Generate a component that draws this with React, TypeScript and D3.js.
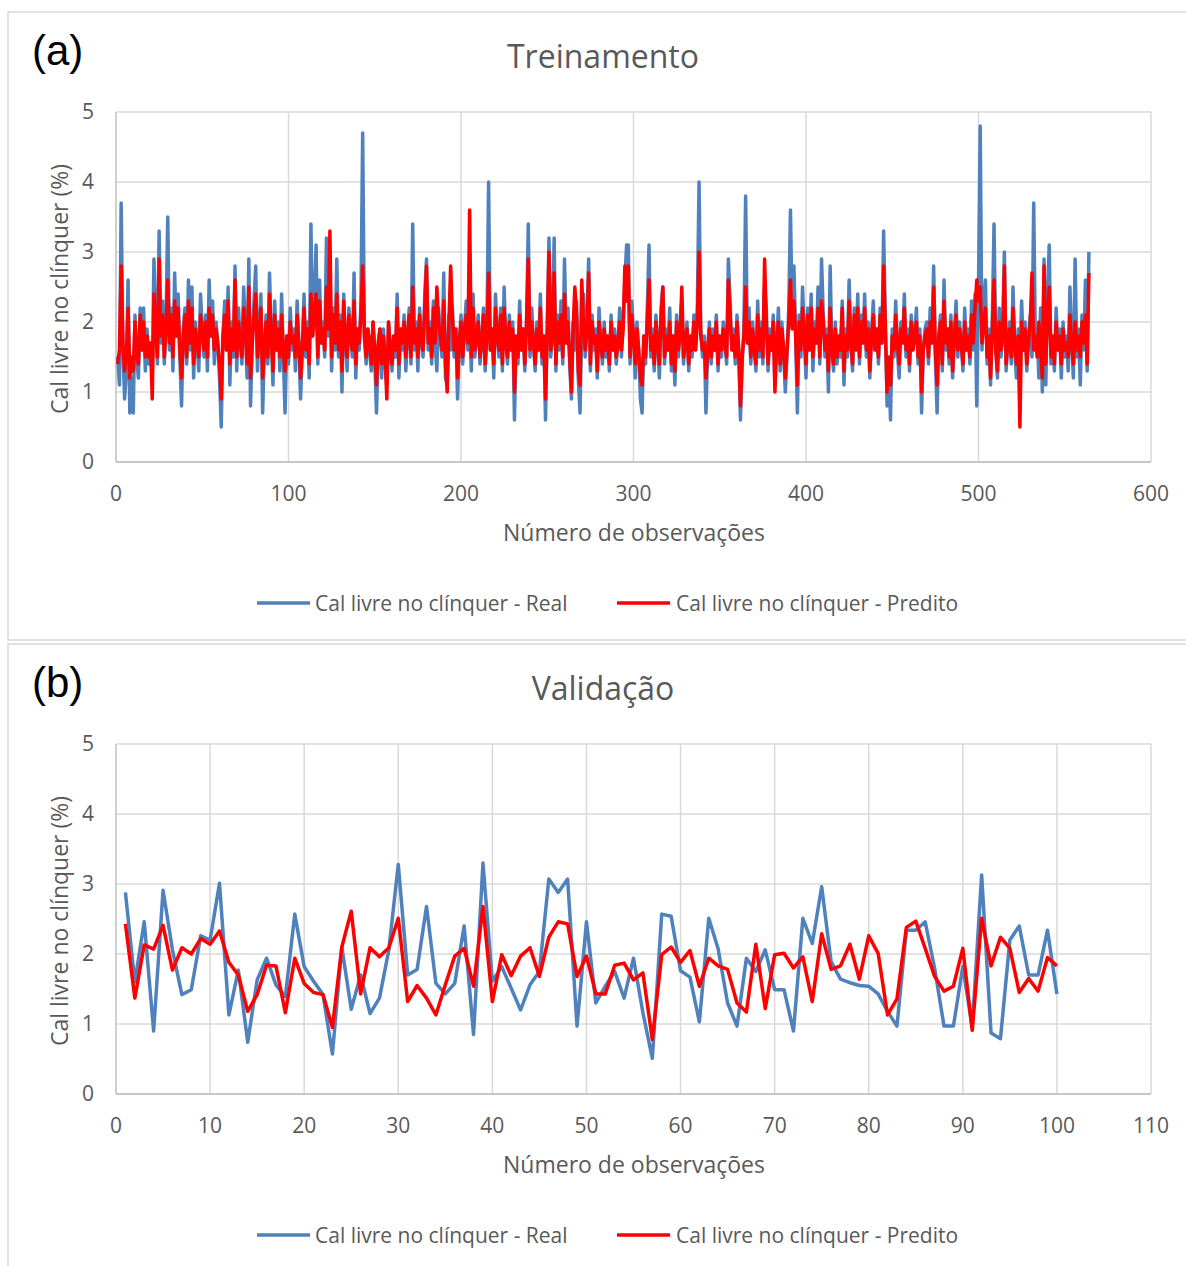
import React from "react";
import * as d3 from "d3";

// Treinamento (a) – observations 1..564
const trainReal = [
  // 1-100
  1.5, 1.1, 3.7, 1.6, 0.9, 1.3, 2.6, 0.7, 1.2, 0.7, 2.1, 1.5, 1.2, 2.2, 1.6, 2.2, 1.3, 1.9, 1.4, 1.7,
  1.2, 2.9, 2.0, 1.4, 3.3, 1.7, 2.3, 1.4, 2.0, 3.5, 1.6, 2.2, 1.3, 2.7, 1.8, 2.4, 1.5, 0.8, 1.9, 2.2,
  1.4, 2.6, 1.6, 2.5, 1.2, 2.0, 1.7, 1.3, 2.4, 1.9, 1.5, 2.1, 1.3, 2.6, 1.8, 2.3, 1.4, 2.0, 1.7, 1.2,
  0.5, 1.8, 2.3, 1.6, 2.5, 1.1, 2.0, 1.5, 2.8, 1.3, 2.2, 1.7, 1.4, 2.5, 1.9, 1.2, 2.9, 0.8, 1.7, 2.3,
  2.8, 1.3, 1.9, 2.4, 0.7, 1.6, 2.1, 1.4, 2.7, 1.8, 1.1, 2.3, 1.6, 2.0, 1.3, 2.4, 1.5, 0.7, 1.8, 1.4,
  // 101-200
  2.2, 1.6, 1.9, 1.3, 2.3, 1.7, 0.9, 1.6, 2.4, 1.5, 2.0, 1.2, 3.4, 1.8, 2.3, 3.1, 1.4, 2.6, 1.7, 2.0,
  1.5, 3.2, 1.8, 2.6, 1.3, 2.2, 1.6, 2.9, 1.5, 2.1, 1.0, 2.4, 1.7, 1.3, 2.2, 1.8, 1.5, 2.7, 1.2, 1.9,
  1.6, 2.3, 4.7, 1.8, 1.4, 1.9, 1.6, 1.3, 2.0, 1.5, 0.7, 1.6, 1.9, 1.2, 1.9, 1.4, 1.1, 2.0, 1.6, 1.3,
  1.8, 1.5, 2.4, 1.2, 1.9, 1.6, 2.1, 1.3, 1.8, 2.2, 1.4, 3.4, 1.6, 2.0, 1.3, 2.2, 1.7, 1.5, 2.4, 2.9,
  1.6, 2.0, 1.4, 2.3, 1.7, 1.3, 2.2, 1.8, 1.5, 2.7, 1.2, 1.1, 2.1, 1.6, 2.2, 1.5, 1.9, 0.9, 1.7, 2.1,
  // 201-300
  1.4, 1.9, 2.3, 1.6, 2.0, 1.3, 2.4, 1.5, 1.8, 2.1, 1.4, 1.7, 2.2, 1.3, 1.8, 4.0, 1.6, 1.9, 1.2, 2.4,
  1.8, 1.5, 2.2, 1.3, 2.5, 1.7, 1.4, 2.1, 1.6, 2.0, 0.6, 1.8, 1.4, 2.3, 1.6, 1.9, 1.3, 2.0, 3.4, 1.5,
  2.2, 1.7, 1.3, 2.0, 1.6, 2.4, 1.4, 1.8, 0.6, 1.9, 3.2, 1.5, 1.8, 3.2, 1.3, 2.1, 1.6, 2.3, 1.4, 2.9,
  1.7, 2.2, 1.4, 0.9, 2.0, 1.6, 2.3, 1.2, 0.7, 1.9, 2.4, 1.5, 2.0, 2.9, 1.3, 2.1, 1.6, 1.9, 1.2, 2.2,
  1.7, 1.4, 2.0, 1.5, 1.8, 1.3, 2.1, 1.6, 1.9, 1.4, 1.7, 2.2, 1.5, 2.0, 2.6, 3.1, 3.1, 1.4, 2.3, 1.8,
  // 301-400
  1.2, 2.0, 1.6, 0.9, 0.7, 1.8, 1.4, 2.2, 3.1, 1.5, 1.9, 1.3, 2.1, 1.7, 1.2, 2.2, 2.5, 1.4, 1.9, 1.6,
  2.2, 1.3, 1.8, 1.1, 2.1, 1.5, 1.9, 2.3, 1.4, 1.7, 2.0, 1.3, 1.8, 1.5, 2.1, 1.6, 2.2, 4.0, 1.9, 1.5,
  1.8, 0.7, 1.6, 2.0, 1.4, 1.9, 1.6, 2.1, 1.3, 1.8, 1.5, 2.0, 1.7, 1.4, 2.9, 2.3, 1.6, 1.9, 1.4, 2.1,
  1.6, 0.6, 1.4, 1.9, 3.8, 1.7, 2.2, 1.4, 2.0, 1.6, 1.3, 2.3, 1.5, 2.0, 1.4, 2.5, 2.2, 1.3, 1.9, 1.6,
  2.1, 1.1, 1.7, 2.2, 1.3, 2.0, 1.6, 1.0, 1.5, 2.2, 3.6, 2.0, 2.8, 1.8, 0.7, 2.1, 1.5, 2.5, 1.8, 1.2,
  // 401-500
  2.2, 1.6, 2.4, 1.3, 2.0, 1.7, 2.5, 1.4, 2.9, 2.1, 1.5, 1.9, 1.0, 2.8, 1.6, 1.3, 2.0, 1.4, 1.8, 1.5,
  2.3, 1.1, 1.9, 1.5, 2.6, 1.7, 1.3, 2.2, 1.6, 2.4, 1.4, 2.1, 1.7, 2.4, 1.5, 2.0, 1.2, 1.8, 2.3, 1.6,
  1.9, 1.4, 2.2, 1.7, 3.3, 2.0, 0.8, 1.4, 0.6, 1.9, 1.5, 2.3, 1.6, 1.2, 2.0, 1.7, 2.4, 1.5, 1.9, 1.3,
  2.1, 1.6, 1.8, 2.2, 1.4, 1.9, 0.7, 1.6, 1.9, 2.0, 1.4, 2.2, 1.7, 2.8, 1.5, 0.7, 1.8, 2.1, 1.3, 2.6,
  1.6, 1.9, 1.4, 2.1, 1.2, 1.8, 2.3, 1.5, 2.0, 1.7, 1.3, 2.2, 1.6, 1.9, 1.4, 2.3, 1.6, 2.4, 0.8, 2.5,
  // 501-564
  4.8, 1.6, 2.2, 2.6, 1.4, 1.9, 1.1, 2.0, 3.4, 1.6, 1.2, 2.2, 1.5, 1.8, 3.0, 1.3, 1.7, 2.0, 1.4, 2.5,
  1.6, 1.2, 1.9, 1.4, 2.3, 1.6, 2.0, 1.3, 1.8, 2.1, 1.5, 3.7, 1.6, 1.9, 1.2, 2.2, 1.0, 2.9, 1.1, 2.4,
  3.1, 1.4, 1.8, 1.3, 2.2, 1.6, 1.9, 1.2, 2.0, 1.5, 1.8, 1.3, 2.5, 1.7, 1.2, 2.9, 1.5, 1.9, 1.1, 2.1,
  1.6, 2.6, 1.3, 3.0,
];

const trainPred = [
  // 1-100
  1.4, 1.6, 2.8, 1.7, 1.3, 1.5, 2.2, 1.2, 1.5, 1.3, 2.0, 1.5, 1.4, 2.1, 1.6, 2.0, 1.5, 1.8, 1.5, 1.7,
  0.9, 2.4, 1.9, 1.5, 2.9, 1.8, 2.1, 1.5, 1.9, 2.6, 1.7, 2.1, 1.5, 2.3, 1.8, 2.2, 1.6, 1.2, 1.8, 2.1,
  1.5, 2.3, 1.7, 2.2, 1.4, 1.9, 1.7, 1.5, 2.1, 1.9, 1.6, 2.0, 1.5, 2.2, 1.8, 2.1, 1.6, 1.9, 1.7, 1.4,
  0.9, 1.8, 2.1, 1.6, 2.3, 1.4, 1.9, 1.6, 2.6, 1.5, 2.0, 1.7, 1.5, 2.2, 1.9, 1.4, 2.5, 1.2, 1.7, 2.1,
  2.4, 1.5, 1.8, 2.2, 1.2, 1.6, 2.0, 1.5, 2.4, 1.8, 1.3, 2.1, 1.6, 1.9, 1.5, 2.1, 1.6, 1.3, 1.8, 1.5,
  // 101-200
  2.0, 1.7, 1.8, 1.5, 2.1, 1.7, 1.2, 1.6, 2.2, 1.6, 1.9, 1.4, 2.4, 1.8, 2.1, 2.4, 1.5, 2.3, 1.7, 1.9,
  1.6, 2.5, 1.9, 3.3, 1.5, 2.1, 1.7, 2.4, 1.6, 2.0, 1.3, 2.3, 1.7, 1.5, 2.1, 1.8, 1.6, 2.3, 1.4, 1.9,
  1.7, 2.1, 2.8, 1.8, 1.5, 1.9, 1.7, 1.4, 2.0, 1.6, 1.1, 1.7, 1.9, 1.4, 1.8, 1.5, 0.9, 2.0, 1.6, 1.4,
  1.8, 1.6, 2.2, 1.4, 1.9, 1.7, 2.0, 1.5, 1.8, 2.1, 1.5, 2.5, 1.7, 1.9, 1.5, 2.1, 1.7, 1.6, 2.2, 2.8,
  1.7, 1.9, 1.5, 2.2, 1.7, 2.5, 2.0, 1.8, 1.6, 2.3, 1.4, 1.0, 2.0, 2.8, 2.1, 1.6, 1.9, 1.2, 1.7, 2.0,
  // 201-300
  1.5, 1.9, 2.1, 1.7, 3.6, 1.5, 2.2, 1.6, 1.8, 2.0, 1.5, 1.7, 2.1, 1.4, 1.8, 2.7, 1.6, 1.9, 1.4, 2.2,
  1.8, 1.6, 2.1, 1.4, 2.2, 1.7, 1.5, 2.0, 1.6, 1.9, 1.0, 1.8, 1.5, 2.1, 1.6, 1.9, 1.4, 2.0, 2.9, 1.6,
  2.0, 1.7, 1.4, 1.9, 1.6, 2.2, 1.5, 1.8, 0.9, 1.9, 3.0, 1.6, 1.8, 2.7, 1.4, 2.0, 1.7, 2.1, 1.5, 2.4,
  1.7, 2.0, 1.5, 1.0, 1.9, 2.5, 2.1, 1.3, 1.1, 2.6, 2.0, 1.6, 1.9, 2.7, 1.4, 2.0, 1.7, 1.8, 1.3, 2.0,
  1.7, 1.5, 1.9, 1.6, 1.8, 1.4, 2.0, 1.6, 1.8, 1.5, 1.7, 2.0, 1.6, 1.9, 2.8, 2.3, 2.8, 1.5, 2.1, 1.8,
  // 301-400
  1.4, 1.9, 1.6, 1.2, 1.1, 1.8, 1.5, 2.0, 2.6, 1.6, 1.8, 1.4, 2.0, 1.7, 1.4, 2.1, 2.5, 1.5, 1.8, 1.6,
  2.0, 1.4, 1.8, 1.3, 2.0, 1.6, 1.8, 2.5, 1.5, 1.7, 1.9, 1.4, 1.8, 1.6, 2.0, 1.6, 2.0, 3.0, 1.8, 1.6,
  1.7, 1.2, 1.6, 1.9, 1.5, 1.8, 1.6, 2.0, 1.4, 1.8, 1.6, 1.9, 1.7, 1.5, 2.6, 2.1, 1.6, 1.8, 1.5, 2.0,
  1.6, 0.8, 1.5, 1.8, 2.5, 1.7, 2.0, 1.5, 1.9, 1.6, 1.4, 2.1, 1.6, 1.9, 1.5, 2.9, 2.0, 1.4, 1.8, 1.6,
  2.0, 1.0, 1.7, 2.0, 1.4, 1.9, 1.6, 1.2, 1.6, 2.0, 2.6, 1.9, 2.3, 1.8, 1.1, 2.0, 1.6, 2.2, 1.8, 1.4,
  // 401-500
  2.1, 1.6, 2.2, 1.5, 1.9, 1.7, 2.2, 1.5, 2.3, 2.0, 1.6, 1.8, 1.3, 2.2, 1.6, 1.4, 1.9, 1.5, 1.8, 1.6,
  2.2, 1.3, 1.8, 1.6, 2.3, 1.7, 1.4, 2.1, 1.6, 2.2, 1.5, 2.0, 1.7, 2.2, 1.6, 1.9, 1.3, 1.8, 2.1, 1.6,
  1.9, 1.5, 2.1, 1.7, 2.8, 1.9, 1.0, 1.5, 1.1, 1.8, 1.6, 2.1, 1.7, 1.4, 1.9, 1.7, 2.2, 1.6, 1.8, 1.4,
  2.0, 1.6, 1.8, 2.0, 1.5, 1.8, 1.0, 1.6, 1.8, 1.9, 1.5, 2.0, 1.7, 2.5, 1.6, 1.1, 1.8, 2.0, 1.4, 2.3,
  1.7, 1.9, 1.5, 2.0, 1.3, 1.8, 2.1, 1.6, 1.9, 1.7, 1.4, 2.0, 1.6, 1.8, 1.5, 2.1, 1.7, 2.2, 2.6, 2.3,
  // 501-564
  2.5, 1.7, 2.0, 2.2, 1.5, 1.8, 1.2, 1.9, 2.6, 1.6, 1.3, 2.0, 1.6, 1.8, 2.8, 1.4, 1.7, 1.9, 1.5, 2.2,
  1.7, 1.4, 1.8, 0.5, 2.0, 1.6, 1.9, 1.4, 1.7, 2.0, 2.7, 1.6, 1.8, 1.5, 2.0, 1.6, 1.2, 2.8, 1.4, 2.1,
  2.5, 1.5, 1.8, 1.4, 2.0, 1.6, 1.8, 1.4, 1.9, 1.6, 1.7, 1.5, 2.1, 1.7, 1.4, 2.0, 1.6, 1.8, 1.5, 2.0,
  1.7, 2.1, 1.4, 2.7,
];

// Validação (b) – observations 1..100
const valReal = [
  2.88, 1.6, 2.46, 0.9, 2.91, 2.06, 1.42, 1.49, 2.26, 2.2,
  3.01, 1.13, 1.77, 0.74, 1.63, 1.94, 1.56, 1.39, 2.57, 1.82,
  1.61, 1.42, 0.57, 2.1, 1.21, 1.7, 1.15, 1.37, 2.06, 3.28,
  1.7, 1.78, 2.68, 1.58, 1.43, 1.58, 2.4, 0.85, 3.3, 1.61,
  1.82, 1.51, 1.2, 1.56, 1.75, 3.07, 2.88, 3.07, 0.97, 2.46,
  1.3, 1.54, 1.75, 1.37, 1.94, 1.16, 0.51, 2.57, 2.54, 1.76,
  1.67, 1.03, 2.51, 2.07, 1.3, 0.97, 1.94, 1.75, 2.06, 1.49,
  1.49, 0.9, 2.51, 2.15, 2.96, 1.89, 1.64, 1.59, 1.55, 1.54,
  1.43, 1.18, 0.97, 2.34, 2.34, 2.46, 1.8, 0.97, 0.97, 1.82,
  0.95, 3.13, 0.87, 0.79, 2.2, 2.4, 1.7, 1.7, 2.34, 1.43,
];

const valPred = [
  2.43, 1.37, 2.13, 2.07, 2.41, 1.77, 2.09, 2.0, 2.22, 2.14,
  2.33, 1.88, 1.7, 1.18, 1.42, 1.84, 1.83, 1.16, 1.94, 1.58,
  1.45, 1.42, 0.95, 2.1, 2.61, 1.43, 2.09, 1.96, 2.09, 2.51,
  1.32, 1.55, 1.37, 1.13, 1.56, 1.97, 2.08, 1.54, 2.68, 1.32,
  1.99, 1.69, 1.97, 2.09, 1.68, 2.24, 2.46, 2.43, 1.68, 1.97,
  1.43, 1.43, 1.84, 1.87, 1.63, 1.73, 0.78, 1.99, 2.1, 1.88,
  2.05, 1.54, 1.94, 1.83, 1.78, 1.3, 1.17, 2.14, 1.22, 1.99,
  2.01, 1.8, 1.96, 1.32, 2.29, 1.78, 1.83, 2.14, 1.64, 2.26,
  2.01, 1.13, 1.36, 2.38, 2.47, 2.08, 1.68, 1.47, 1.54, 2.08,
  0.91, 2.51, 1.83, 2.24, 2.08, 1.45, 1.65, 1.47, 1.95, 1.83,
];

const yTicks = [0, 1, 2, 3, 4, 5];
const trainXTicks = [0, 100, 200, 300, 400, 500, 600];
const valXTicks = [0, 10, 20, 30, 40, 50, 60, 70, 80, 90, 100, 110];

const BLUE = "#4f81bd";
const RED = "#ff0000";
const GRID = "#d9d9d9";
const TEXT = "#595959";
const FONT = "'Open Sans', 'Noto Sans', sans-serif";

type PanelProps = {
  top: number;
  label: string;
  title: string;
  real: number[];
  pred: number[];
  xMax: number;
  xTicks: number[];
};

function Panel({ top, label, title, real, pred, xMax, xTicks }: PanelProps) {
  const left = 116;
  const right = 1151;
  const plotTop = top + 100;
  const plotBottom = top + 450;

  const x = d3.scaleLinear().domain([0, xMax]).range([left, right]);
  const y = d3.scaleLinear().domain([0, 5]).range([plotBottom, plotTop]);

  const line = d3
    .line<number>()
    .x((_, i) => x(i + 1))
    .y((d) => y(d));

  const legendY = top + 591;

  return (
    <g>
      <rect x={8} y={top} width={1200} height={628} fill="#fff" stroke={GRID} strokeWidth={1.5} />
      <text x={32} y={top + 53} fontFamily="'Liberation Sans', Arial, sans-serif" fontSize={42} fill="#000">
        {label}
      </text>
      <text x={603} y={top + 56} textAnchor="middle" fontFamily={FONT} fontSize={32} fill={TEXT}>
        {title}
      </text>

      {/* grid */}
      {yTicks.map((t) => (
        <line key={"h" + t} x1={left} x2={right} y1={y(t)} y2={y(t)} stroke={GRID} strokeWidth={1.5} />
      ))}
      {xTicks.slice(1).map((t) => (
        <line key={"v" + t} x1={x(t)} x2={x(t)} y1={plotTop} y2={plotBottom} stroke={GRID} strokeWidth={1.5} />
      ))}
      <line x1={left} x2={left} y1={plotTop} y2={plotBottom} stroke="#bfbfbf" strokeWidth={1.5} />
      <line x1={left} x2={right} y1={plotBottom} y2={plotBottom} stroke="#bfbfbf" strokeWidth={1.5} />

      {/* tick labels */}
      {yTicks.map((t) => (
        <text key={"yl" + t} x={94} y={y(t) + 7} textAnchor="end" fontFamily={FONT} fontSize={21} fill={TEXT}>
          {t}
        </text>
      ))}
      {xTicks.map((t) => (
        <text key={"xl" + t} x={x(t)} y={plotBottom + 39} textAnchor="middle" fontFamily={FONT} fontSize={21} fill={TEXT}>
          {t}
        </text>
      ))}

      {/* axis titles */}
      <text
        transform={`translate(68,${(plotTop + plotBottom) / 2 + 2}) rotate(-90)`}
        textAnchor="middle"
        fontFamily={FONT}
        fontSize={23}
        fill={TEXT}
      >
        Cal livre no clínquer (%)
      </text>
      <text x={634} y={plotBottom + 79} textAnchor="middle" fontFamily={FONT} fontSize={23} fill={TEXT}>
        Número de observações
      </text>

      {/* series */}
      <path d={line(real) || ""} fill="none" stroke={BLUE} strokeWidth={3.5} strokeLinejoin="round" />
      <path d={line(pred) || ""} fill="none" stroke={RED} strokeWidth={3.5} strokeLinejoin="round" />

      {/* legend */}
      <line x1={257} x2={310} y1={legendY} y2={legendY} stroke={BLUE} strokeWidth={3.5} />
      <text x={315} y={legendY + 8} fontFamily={FONT} fontSize={21} fill={TEXT}>
        Cal livre no clínquer - Real
      </text>
      <line x1={617} x2={670} y1={legendY} y2={legendY} stroke={RED} strokeWidth={3.5} />
      <text x={676} y={legendY + 8} fontFamily={FONT} fontSize={21} fill={TEXT}>
        Cal livre no clínquer - Predito
      </text>
    </g>
  );
}

export default function App() {
  return (
    <svg
      width={1186}
      height={1266}
      style={{ position: "absolute", left: 0, top: 0, background: "#fff" }}
    >
      <rect width={1186} height={1266} fill="#fff" />
      <Panel
        top={12}
        label="(a)"
        title="Treinamento"
        real={trainReal}
        pred={trainPred}
        xMax={600}
        xTicks={trainXTicks}
      />
      <Panel
        top={644}
        label="(b)"
        title="Validação"
        real={valReal}
        pred={valPred}
        xMax={110}
        xTicks={valXTicks}
      />
    </svg>
  );
}
